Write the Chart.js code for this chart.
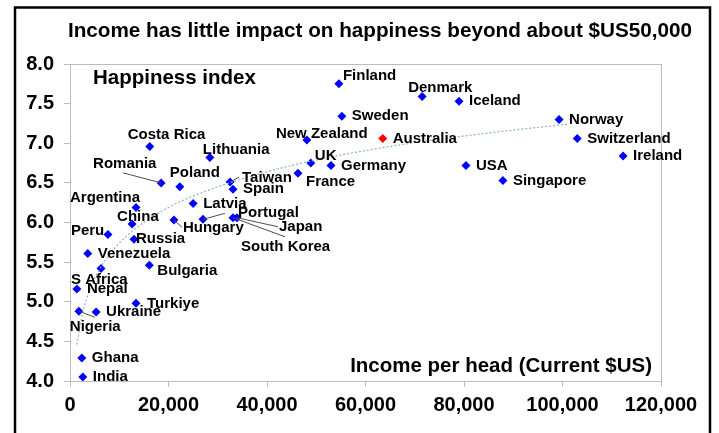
<!DOCTYPE html>
<html>
<head>
<meta charset="utf-8">
<script src="https://cdn.jsdelivr.net/npm/chart.js@4.4.1/dist/chart.umd.min.js"></script>
<style>
    html, body { margin: 0; padding: 0; background: #ffffff; }
    #wrap { width: 719px; height: 433px; position: relative; }
</style>
</head>
<body>
<div id="wrap"><canvas id="happyChart" width="719" height="433"></canvas></div>
<script>
// Data
const countries = ["Finland", "Denmark", "Iceland", "Sweden", "Norway", "Switzerland", "Australia",
    "New Zealand", "Costa Rica", "Ireland", "Lithuania", "UK", "Germany", "USA", "France", "Singapore",
    "Taiwan", "Romania", "Poland", "Spain", "Latvia", "Argentina", "Japan", "South Korea", "Portugal",
    "Hungary", "China", "Peru", "Russia", "Venezuela", "Bulgaria", "S Africa", "Nepal", "Turkiye",
    "Nigeria", "Ukraine", "Ghana", "India"];
const income = [54600, 71500, 79000, 55200, 99300, 103000, 63500,
    48100, 16200, 112300, 28400, 48900, 53000, 80400, 46300, 87900,
    32500, 18500, 22300, 33100, 25000, 13400, 33900, 33100, 27000,
    21100, 12600, 7700, 13000, 3600, 16100, 6300, 1400, 13400,
    1800, 5300, 2400, 2600];
const happiness = [7.75, 7.59, 7.53, 7.34, 7.30, 7.06, 7.06,
    7.04, 6.96, 6.84, 6.82, 6.75, 6.72, 6.72, 6.62, 6.53,
    6.51, 6.50, 6.45, 6.42, 6.24, 6.19, 6.06, 6.06, 6.04,
    6.03, 5.98, 5.85, 5.79, 5.61, 5.46, 5.42, 5.16, 4.98,
    4.88, 4.87, 4.29, 4.05];
const highlight = "Australia";

// Dotted trend curve
const trendIncome = [1400, 2500, 4000, 6000, 9000, 13000, 20000, 30000, 45000, 65000, 85000, 101000];
const trendHappiness = [4.46, 4.84, 5.15, 5.41, 5.67, 5.91, 6.19, 6.45, 6.72, 6.96, 7.13, 7.24];

const xTicks = [0, 20000, 40000, 60000, 80000, 100000, 120000];
const yTicks = [4.0, 4.5, 5.0, 5.5, 6.0, 6.5, 7.0, 7.5, 8.0];

const chartTitle = "Income has little impact on happiness beyond about $US50,000";
const yTitle = "Happiness index";
const xTitle = "Income per head (Current $US)";

const FONT = "'Liberation Sans', Arial, sans-serif";

// Label placement: offset from the point to the left/middle of the text
const labelOffsets = {
    "Costa Rica": [-22, -12], "Lithuania": [-7, -8], "Romania": [-68, -19], "Poland": [-10, -14],
    "Argentina": [-66, -10], "China": [-15, -7], "Peru": [-37, -4], "Russia": [2, 0],
    "S Africa": [-30, 11], "Bulgaria": [8, 6], "Turkiye": [11, 1], "Nigeria": [-9, 16],
    "Hungary": [9, 8], "Finland": [4, -8], "New Zealand": [-31, -6], "Denmark": [-14, -9],
    "UK": [4, -7], "France": [8, 8], "Taiwan": [12, -4], "Portugal": [35, -6],
    "Japan": [42, 9], "South Korea": [8, 29]
};
// Leader lines: end point relative to the marker
const leaders = {
    "Romania": [-38, -10], "Nigeria": [16, 6], "Hungary": [8, 7], "Taiwan": [9, -5],
    "Portugal": [22, -6], "Japan": [41, 9], "South Korea": [52, 19]
};

// Frame, titles, plot border and country labels
const decorPlugin = {
    id: 'decor',
    beforeDraw(chart) {
        const ctx = chart.ctx;
        ctx.save();
        ctx.fillStyle = '#ffffff';
        ctx.fillRect(0, 0, chart.width, chart.height);
        ctx.restore();
    },
    afterDatasetsDraw(chart) {
        const ctx = chart.ctx;
        const area = chart.chartArea;
        ctx.save();
        // plot border
        ctx.strokeStyle = '#bdbdbd';
        ctx.lineWidth = 1;
        ctx.strokeRect(area.left + 0.5, area.top + 0.5, area.right - area.left, area.bottom - area.top);

        // leader lines and labels
        const meta = chart.getDatasetMeta(1);
        ctx.font = "bold 15px " + FONT;
        ctx.textAlign = 'left';
        ctx.textBaseline = 'middle';
        countries.forEach((name, i) => {
            const pt = meta.data[i];
            if (leaders[name]) {
                ctx.strokeStyle = '#505050';
                ctx.lineWidth = 1;
                ctx.beginPath();
                ctx.moveTo(pt.x, pt.y);
                ctx.lineTo(pt.x + leaders[name][0], pt.y + leaders[name][1]);
                ctx.stroke();
            }
            const off = labelOffsets[name] || [10, 0];
            ctx.fillStyle = '#000000';
            ctx.fillText(name, pt.x + off[0], pt.y + off[1]);
        });

        // titles
        ctx.font = "bold 20.7px " + FONT;
        ctx.textAlign = 'center';
        ctx.fillText(chartTitle, 380, 31);
        ctx.font = "bold 20.5px " + FONT;
        ctx.textAlign = 'left';
        ctx.fillText(yTitle, 93, 78);
        ctx.textAlign = 'right';
        ctx.fillText(xTitle, 652, 366);

        // outer frame
        ctx.strokeStyle = '#000000';
        ctx.lineWidth = 2.5;
        ctx.strokeRect(15, 7.5, 695, 440);
        ctx.restore();
    }
};

const pointColors = countries.map(c => c === highlight ? '#ff0000' : '#0000ff');

new Chart(document.getElementById('happyChart'), {
    type: 'scatter',
    data: {
        datasets: [
            {
                type: 'line',
                label: 'Trend',
                data: trendIncome.map((x, i) => ({ x: x, y: trendHappiness[i] })),
                borderColor: '#8fb2da',
                borderWidth: 1.2,
                borderDash: [2, 2],
                pointRadius: 0,
                fill: false,
                cubicInterpolationMode: 'monotone'
            },
            {
                label: 'Countries',
                data: income.map((x, i) => ({ x: x, y: happiness[i] })),
                pointStyle: 'rectRot',
                pointRadius: 4.5,
                pointBackgroundColor: pointColors,
                pointBorderColor: pointColors,
                pointBorderWidth: 0
            }
        ]
    },
    options: {
        responsive: false,
        animation: false,
        layout: { padding: { left: 0, top: 64, right: 58, bottom: 0 } },
        plugins: {
            legend: { display: false },
            title: { display: false },
            tooltip: { enabled: false }
        },
        scales: {
            x: {
                type: 'linear',
                min: 0,
                max: 120000,
                afterBuildTicks: (scale) => { scale.ticks = xTicks.map(v => ({ value: v })); },
                afterFit: (scale) => { scale.height = 52; },
                grid: { drawOnChartArea: false, color: '#bdbdbd', tickLength: 6 },
                border: { color: '#bdbdbd' },
                ticks: {
                    color: '#000000',
                    padding: 6,
                    maxRotation: 0,
                    font: { family: FONT, size: 20, weight: 'bold' },
                    callback: (v) => v.toLocaleString('en-US')
                }
            },
            y: {
                type: 'linear',
                min: 4,
                max: 8,
                afterBuildTicks: (scale) => { scale.ticks = yTicks.map(v => ({ value: v })); },
                afterFit: (scale) => { scale.width = 70; },
                grid: { drawOnChartArea: false, color: '#bdbdbd', tickLength: 6 },
                border: { color: '#bdbdbd' },
                ticks: {
                    color: '#000000',
                    padding: 10,
                    font: { family: FONT, size: 20, weight: 'bold' },
                    callback: (v) => Number(v).toFixed(1)
                }
            }
        }
    },
    plugins: [decorPlugin]
});
</script>
</body>
</html>
